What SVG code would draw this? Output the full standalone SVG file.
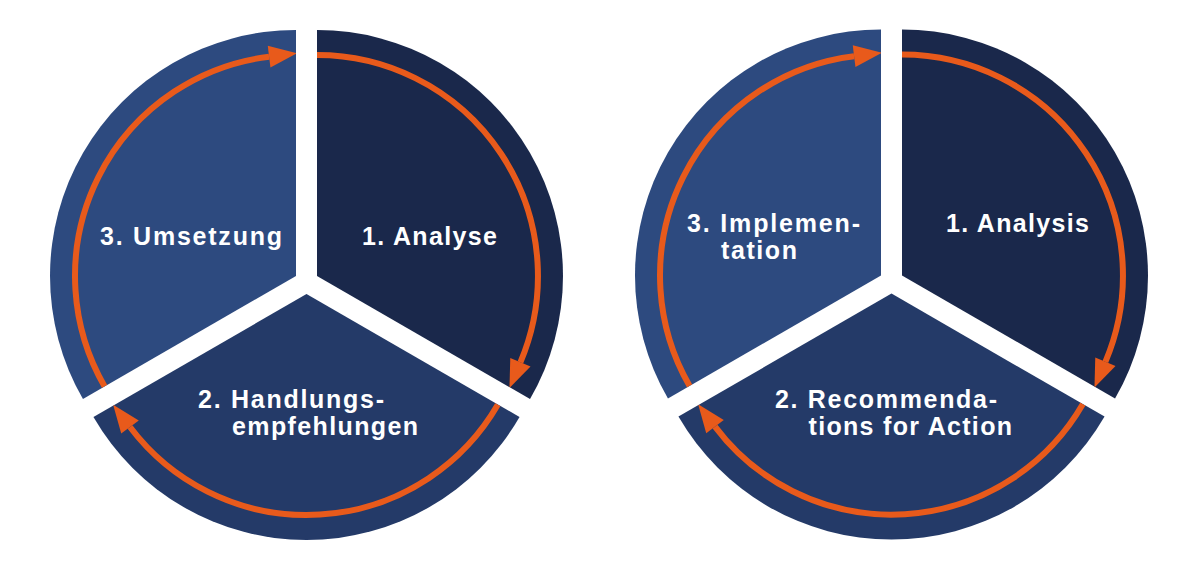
<svg xmlns="http://www.w3.org/2000/svg" width="1200" height="570" viewBox="0 0 1200 570">
<style>
.s1{fill:#1a284b}
.s2{fill:#243a68}
.s3{fill:#2d4a7f}
.arc{fill:none;stroke:#e85a1b;stroke-width:6;marker-end:url(#ah)}
.lbl{font-family:"Liberation Sans",Arial,sans-serif;font-weight:bold;font-size:25px;fill:#ffffff}
</style>
<defs>
<marker id="ah" markerUnits="userSpaceOnUse" markerWidth="30" markerHeight="24" viewBox="0 0 30 24" refX="0" refY="12" orient="auto" overflow="visible">
<path d="M0,1 L28,12 L0,23 Z" fill="#e85a1b"/>
</marker>
<path id="secR" d="M0,0 L0,-246 A246,246 0 0 1 213.04,123 Z"/>
<path id="secB" d="M0,0 L213.04,123 A246,246 0 0 1 -213.04,123 Z"/>
<path id="secL" d="M0,0 L-213.04,123 A246,246 0 0 1 0,-246 Z"/>
<clipPath id="cR"><use href="#secR"/></clipPath>
<clipPath id="cB"><use href="#secB"/></clipPath>
<clipPath id="cL"><use href="#secL"/></clipPath>
</defs>
<rect width="1200" height="570" fill="#ffffff"/>

<!-- German cycle -->
<g id="de-analyse">
<use href="#secR" class="s1" transform="translate(317,276)"/>
<text class="lbl" x="362" y="245" textLength="135" lengthAdjust="spacing">1. Analyse</text>
</g>
<g id="de-handlungsempfehlungen">
<use href="#secB" class="s2" transform="translate(306.5,294)"/>
<text class="lbl" x="198" y="408" textLength="186" lengthAdjust="spacing">2. Handlungs-</text>
<text class="lbl" x="232" y="435" textLength="186" lengthAdjust="spacing">empfehlungen</text>
</g>
<g id="de-umsetzung">
<use href="#secL" class="s3" transform="translate(296,276)"/>
<text class="lbl" x="100" y="245" textLength="182" lengthAdjust="spacing">3. Umsetzung</text>
</g>

<!-- English cycle -->
<g id="en-analysis">
<use href="#secR" class="s1" transform="translate(902,275.5)"/>
<text class="lbl" x="946" y="232" textLength="143" lengthAdjust="spacing">1. Analysis</text>
</g>
<g id="en-recommendations">
<use href="#secB" class="s2" transform="translate(891.5,293.6)"/>
<text class="lbl" x="775" y="408" textLength="222" lengthAdjust="spacing">2. Recommenda-</text>
<text class="lbl" x="808.5" y="435" textLength="203.5" lengthAdjust="spacing">tions for Action</text>
</g>
<g id="en-implementation">
<use href="#secL" class="s3" transform="translate(881,275.5)"/>
<text class="lbl" x="687" y="232" textLength="173" lengthAdjust="spacing">3. Implemen-</text>
<text class="lbl" x="721" y="259" textLength="76" lengthAdjust="spacing">tation</text>
</g>

<g id="connectors">
<g transform="translate(317,276)" clip-path="url(#cR)"><path class="arc" d="M0,-221 A221,221 0 0 1 203.4,86.3"/></g>
<g transform="translate(306.5,294)" clip-path="url(#cB)"><path class="arc" d="M191.4,110.5 A221,221 0 0 1 -176.5,133"/></g>
<g transform="translate(296,276)" clip-path="url(#cL)"><path class="arc" d="M-191.4,110.5 A221,221 0 0 1 -26.9,-219.3"/></g>
<g transform="translate(902,275.5)" clip-path="url(#cR)"><path class="arc" d="M0,-221 A221,221 0 0 1 203.4,86.3"/></g>
<g transform="translate(891.5,293.6)" clip-path="url(#cB)"><path class="arc" d="M191.4,110.5 A221,221 0 0 1 -176.5,133"/></g>
<g transform="translate(881,275.5)" clip-path="url(#cL)"><path class="arc" d="M-191.4,110.5 A221,221 0 0 1 -26.9,-219.3"/></g>
</g>
</svg>
